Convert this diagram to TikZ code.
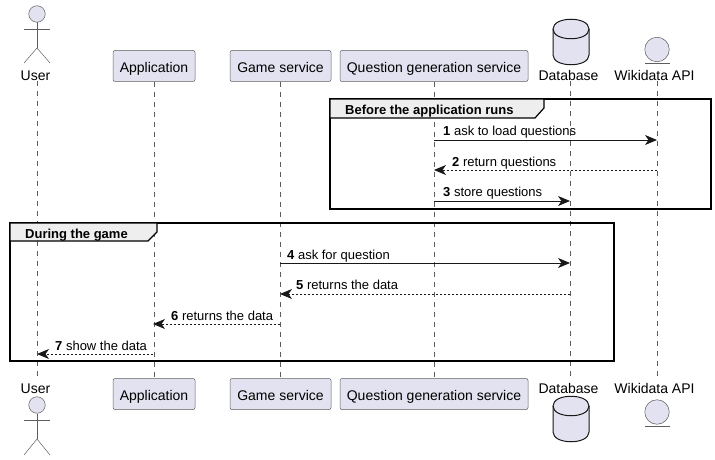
\documentclass[tikz,border=0pt]{standalone}
\usepackage{fontspec}
\setmainfont{Liberation Sans}
\usetikzlibrary{arrows.meta}
\definecolor{partfill}{HTML}{E2E2F0}
\definecolor{partline}{HTML}{181818}
\definecolor{grouptab}{HTML}{EEEEEE}
\tikzset{
part/.style={draw=partline!70, fill=partfill, rounded corners=2pt, line width=0.5pt, minimum height=31pt, inner sep=0pt, text height=14pt, text depth=1pt, font=\fontsize{14}{14}\selectfont},
lab/.style={anchor=base, inner sep=0pt, font=\fontsize{14}{14}\selectfont},
dbase/.pic={
\draw[draw=partline, fill=partfill, line width=1pt] (-18,0) .. controls (-18,-13) and (18,-13) .. (18,0) -- (18,26) .. controls (18,39) and (-18,39) .. (-18,26) -- cycle;
\draw[draw=partline, line width=1pt] (-18,0) .. controls (-18,13) and (18,13) .. (18,0);
},
ent/.style={draw=partline!70, fill=partfill, circle, minimum size=24.5pt, inner sep=0pt, line width=0.5pt},
head/.style={draw=partline!70, fill=partfill, circle, minimum size=16.5pt, inner sep=0pt, line width=0.5pt},
limb/.style={draw=partline!70, line width=0.5pt},
life/.style={draw=partline!70, line width=0.5pt, dash pattern=on 5pt off 5pt},
call/.style={draw=partline, line width=0.8pt, arrows={-Stealth[length=12pt, width=10pt, inset=3.5pt]}},
reply/.style={call, dash pattern=on 2pt off 2pt},
msg/.style={anchor=base west, inner sep=0pt, font=\fontsize{13}{13}\selectfont},
frame/.style={draw=black, line width=1.5pt},
tab/.style={draw=black, fill=grouptab, line width=1.2pt},
title/.style={anchor=base west, inner sep=0pt, font=\fontsize{13}{13}\selectfont\bfseries}
}

\begin{document}
\begin{tikzpicture}[x=1pt, y=-1pt]
\useasboundingbox (0,0) rectangle (715,460);

\node (head1)[head] at (37,14) {};
\node (head2)[head] at (37,405) {};
\node (user1)[lab] at (35.5,81) {User};
\node (user2)[lab] at (35.5,393) {User};
\node (app1)[part, minimum width=82pt] at (154,66) {Application};
\node (app2)[part, minimum width=82pt] at (154,394) {Application};
\node (game1)[part, minimum width=101pt] at (280.5,66) {Game service};
\node (game2)[part, minimum width=101pt] at (280.5,394) {Game service};
\node (qgs1)[part, minimum width=188pt] at (434,66) {Question generation service};
\node (qgs2)[part, minimum width=188pt] at (434,394) {Question generation service};
\pic at (571,29) {dbase};
\pic at (571,406) {dbase};
\node (dbl1)[lab] at (568.5,81) {Database};
\node (dbl2)[lab] at (568.5,393) {Database};
\node (wiki1)[ent] at (657,49.5) {};
\node (wiki2)[ent] at (657,412) {};
\node (wikl1)[lab] at (654.5,81) {Wikidata API};
\node (wikl2)[lab] at (654.5,393) {Wikidata API};

\coordinate (neck1) at (37,48);
\coordinate (neck2) at (37,439);
\coordinate (arml1) at (24,29);
\coordinate (armr1) at (50,29);
\coordinate (arml2) at (24,420);
\coordinate (armr2) at (50,420);
\coordinate (legl1) at (24,63);
\coordinate (legr1) at (50,63);
\coordinate (legl2) at (24,455);
\coordinate (legr2) at (50,455);
\draw[limb] (head1) -- (neck1);
\draw[limb] (head2) -- (neck2);
\draw[limb] (arml1) -- (armr1);
\draw[limb] (arml2) -- (armr2);
\draw[limb] (neck1) -- (legl1);
\draw[limb] (neck1) -- (legr1);
\draw[limb] (neck2) -- (legl2);
\draw[limb] (neck2) -- (legr2);
\coordinate (barl1) at (645,63);
\coordinate (barr1) at (670,63);
\coordinate (barl2) at (645,426);
\coordinate (barr2) at (670,426);
\draw[limb] (barl1) -- (barr1);
\draw[limb] (barl2) -- (barr2);

\coordinate (usert) at (37,81);
\coordinate (userb) at (37,378);
\coordinate (dbt) at (570,81);
\coordinate (dbb) at (570,378);
\coordinate (wikit) at (657,81);
\coordinate (wikib) at (657,378);
\draw[life] (usert) -- (userb);
\draw[life] (app1) -- (app2);
\draw[life] (game1) -- (game2);
\draw[life] (qgs1) -- (qgs2);
\draw[life] (dbt) -- (dbb);
\draw[life] (wikit) -- (wikib);

\node (grp1)[frame, minimum width=381pt, minimum height=110pt, inner sep=0pt] at (520.5,154) {};
\node (grp2)[frame, minimum width=604pt, minimum height=138pt, inner sep=0pt] at (312,292) {};
\draw[tab] (330,99) -- (544,99) -- (544,108) -- (535,118) -- (330,118) -- cycle;
\draw[tab] (10,223) -- (157,223) -- (157,232) -- (148,241) -- (10,241) -- cycle;
\node (gt1)[title] at (345,114) {Before the application runs};
\node (gt2)[title] at (25,238) {During the game};

\coordinate (a1) at (434,140);
\coordinate (b1) at (657,140);
\coordinate (a2) at (657,170);
\coordinate (b2) at (434,170);
\coordinate (a3) at (434,201);
\coordinate (b3) at (570,201);
\coordinate (a4) at (280,263);
\coordinate (b4) at (570,263);
\coordinate (a5) at (570,294);
\coordinate (b5) at (280,294);
\coordinate (a6) at (280,324);
\coordinate (b6) at (153,324);
\coordinate (a7) at (153,354);
\coordinate (b7) at (37,354);
\draw[call] (a1) -- (b1);
\draw[reply] (a2) -- (b2);
\draw[call] (a3) -- (b3);
\draw[call] (a4) -- (b4);
\draw[reply] (a5) -- (b5);
\draw[reply] (a6) -- (b6);
\draw[reply] (a7) -- (b7);

\node (m1)[msg] at (443,135) {\textbf{1} ask to load questions};
\node (m2)[msg] at (452,166) {\textbf{2} return questions};
\node (m3)[msg] at (443,196) {\textbf{3} store questions};
\node (m4)[msg] at (287,259) {\textbf{4} ask for question};
\node (m5)[msg] at (296,289) {\textbf{5} returns the data};
\node (m6)[msg] at (171,320) {\textbf{6} returns the data};
\node (m7)[msg] at (55,350) {\textbf{7} show the data};

\end{tikzpicture}
\end{document}
